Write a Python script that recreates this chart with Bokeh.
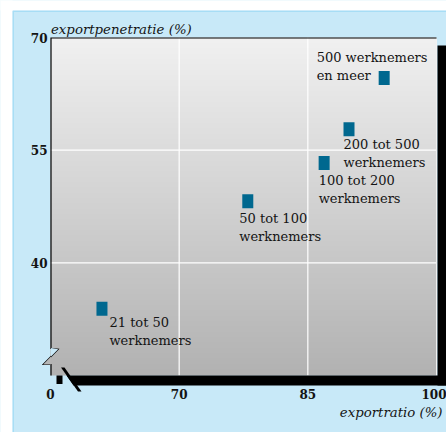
import numpy as np
from bokeh.plotting import figure
from bokeh.models import FixedTicker, Label, BoxAnnotation, PolyAnnotation, ColumnDataSource
from bokeh.core.properties import value
from bokeh.embed import file_html
from bokeh.resources import INLINE

# ---- data ----
groups = ["21 tot 50\nwerknemers", "50 tot 100\nwerknemers", "100 tot 200\nwerknemers",
          "200 tot 500\nwerknemers", "500 werknemers\nen meer"]
exportratio = [61.0, 78.0, 86.9, 89.8, 93.9]
exportpenetratie = [33.9, 48.2, 53.3, 57.8, 64.6]
x_ticks = [55, 70, 85, 100]
x_tick_labels = ["0", "70", "85", "100"]
y_ticks = [40, 55, 70]
y_tick_labels = ["40", "55", "70"]
x_title = "exportratio (%)"
y_title = "exportpenetratie (%)"

# label placement: screen px from marker centre to text top-left
label_dx = [7.5, -8.5, -5.5, -5.5, -67.5]
label_dy = [6, 10, 10, 8, -28]

# ---- layout (canvas pixels) ----
W, H = 446, 432
X0, X1 = x_ticks[0], x_ticks[-1]
Y0, Y1 = 25, y_ticks[-1]
GX0, GX1, GY0, GY1 = 50, 436, 37, 375   # pixel box of the grey plot area
KX = (GX1 - GX0) / (X1 - X0)
KY = (GY1 - GY0) / (Y1 - Y0)

def px_x(cx):
    return X0 + (cx - GX0) / KX

def px_y(cy):
    return Y1 - (cy - GY0) / KY

SERIF = "DejaVu Serif"
PANEL = "#c8e9f8"
TXT = "#141414"

p = figure(width=W, height=H, x_range=(px_x(0), px_x(W)), y_range=(px_y(H), px_y(0)),
           output_backend="svg", toolbar_location=None,
           min_border_left=0, min_border_right=0, min_border_top=0, min_border_bottom=0)
p.title.visible = False
p.border_fill_color = PANEL
p.background_fill_color = PANEL
p.outline_line_color = None
p.xgrid.visible = False
p.ygrid.visible = False

# page margin and panel border
p.add_layout(BoxAnnotation(left=px_x(-5), right=px_x(12), top=px_y(-5), bottom=px_y(H + 5),
                           fill_color="white", fill_alpha=1, line_color=None, level="underlay"))
p.add_layout(BoxAnnotation(left=px_x(-5), right=px_x(W + 5), top=px_y(-5), bottom=px_y(10),
                           fill_color="white", fill_alpha=1, line_color=None, level="underlay"))
p.add_layout(BoxAnnotation(left=px_x(12.7), right=px_x(W + 5), top=px_y(10.7), bottom=px_y(H + 5),
                           fill_alpha=0, line_color="#5ec4ee", line_width=1.5, level="underlay"))

# gradient background of the plot area
n = GY1 - GY0
g = np.linspace(178, 241, n).astype(np.uint32)
img = ((255 << 24) | (g << 16) | (g << 8) | g).astype(np.uint32)
img = np.repeat(img.reshape(n, 1), 4, axis=1)
p.image_rgba(image=[img], x=X0, y=Y0, dw=X1 - X0, dh=Y1 - Y0)

# grid lines (inner ticks only)
gx = x_ticks[1:-1]
gy = y_ticks[:-1]
p.segment(x0=gx, y0=[Y0] * len(gx), x1=gx, y1=[Y1] * len(gx), line_color="white", line_width=1.2)
p.segment(x0=[X0] * len(gy), y0=gy, x1=[X1] * len(gy), y1=gy, line_color="white", line_width=1.2)

def poly(pts, fill):
    p.add_layout(PolyAnnotation(xs=[px_x(a) for a, b in pts], ys=[px_y(b) for a, b in pts],
                                fill_color=fill, fill_alpha=1, line_color=None))

def path(pts, color, lw):
    p.line(x=[px_x(a) for a, b in pts], y=[px_y(b) for a, b in pts],
           line_color=color, line_width=lw, line_join="miter")

# light right edge of the plot area
path([(436, 38), (436, 375)], "#f2f2f2", 1)
# axis break on the left edge
poly([(50.5, 347.5), (57.7, 348.7), (50.5, 356)], PANEL)
poly([(50.5, 356), (42.7, 364), (50.5, 364)], "#b6b6b6")
# frame border (top + broken left edge)
path([(50.5, 375), (50.5, 364), (42.7, 364), (57.7, 348.7), (50.5, 348), (50.5, 37.5), (436, 37.5)],
     "black", 1.2)
# shadow with broken bottom edge
poly([(437, 45), (447, 45), (447, 385), (437, 385)], "black")
poly([(66, 375), (447, 375), (447, 385), (73, 385)], "black")
poly([(56, 375), (62, 375), (62, 383.5), (56, 383.5)], "black")
poly([(60.5, 367), (64, 367), (81, 391), (77.5, 391)], "black")

# axes (drawn at the edges of the grey area)
p.xaxis.ticker = FixedTicker(ticks=x_ticks)
p.xaxis.major_label_overrides = {t: l for t, l in zip(x_ticks, x_tick_labels)}
p.yaxis.ticker = FixedTicker(ticks=y_ticks)
p.yaxis.major_label_overrides = {t: l for t, l in zip(y_ticks, y_tick_labels)}
p.xaxis.fixed_location = Y0
p.yaxis.fixed_location = X0
for ax in (p.xaxis, p.yaxis):
    ax.axis_line_color = None
    ax.major_tick_line_color = None
    ax.minor_tick_line_color = None
    ax.major_tick_out = 0
    ax.major_tick_in = 0
    ax.major_label_text_font = SERIF
    ax.major_label_text_font_style = "bold"
    ax.major_label_text_font_size = "12px"
    ax.major_label_text_color = TXT
p.xaxis.major_label_standoff = 13
p.yaxis.major_label_standoff = 3

# points and labels
src = ColumnDataSource(dict(x=exportratio, y=exportpenetratie, label=groups, dx=label_dx, dy=label_dy))
p.rect(x="x", y="y", width=11, height=14, width_units="screen", height_units="screen",
       source=src, fill_color="#00688f", line_color=None)
p.text(x="x", y="y", text="label", x_offset="dx", y_offset="dy", source=src,
       text_font=value(SERIF), text_font_size="13px", text_color=TXT,
       text_baseline="top", text_align="left", text_line_height=1.2)

# axis titles
p.add_layout(Label(x=px_x(50.5), y=px_y(28.5), text=y_title, text_font=SERIF, text_font_style="italic",
                   text_font_size="13.3px", text_color=TXT, text_align="left", text_baseline="alphabetic"))
p.add_layout(Label(x=px_x(442), y=px_y(412), text=x_title, text_font=SERIF, text_font_style="italic",
                   text_font_size="13.3px", text_color=TXT, text_align="right", text_baseline="alphabetic"))

open("out.html", "w").write(file_html(p, INLINE))
